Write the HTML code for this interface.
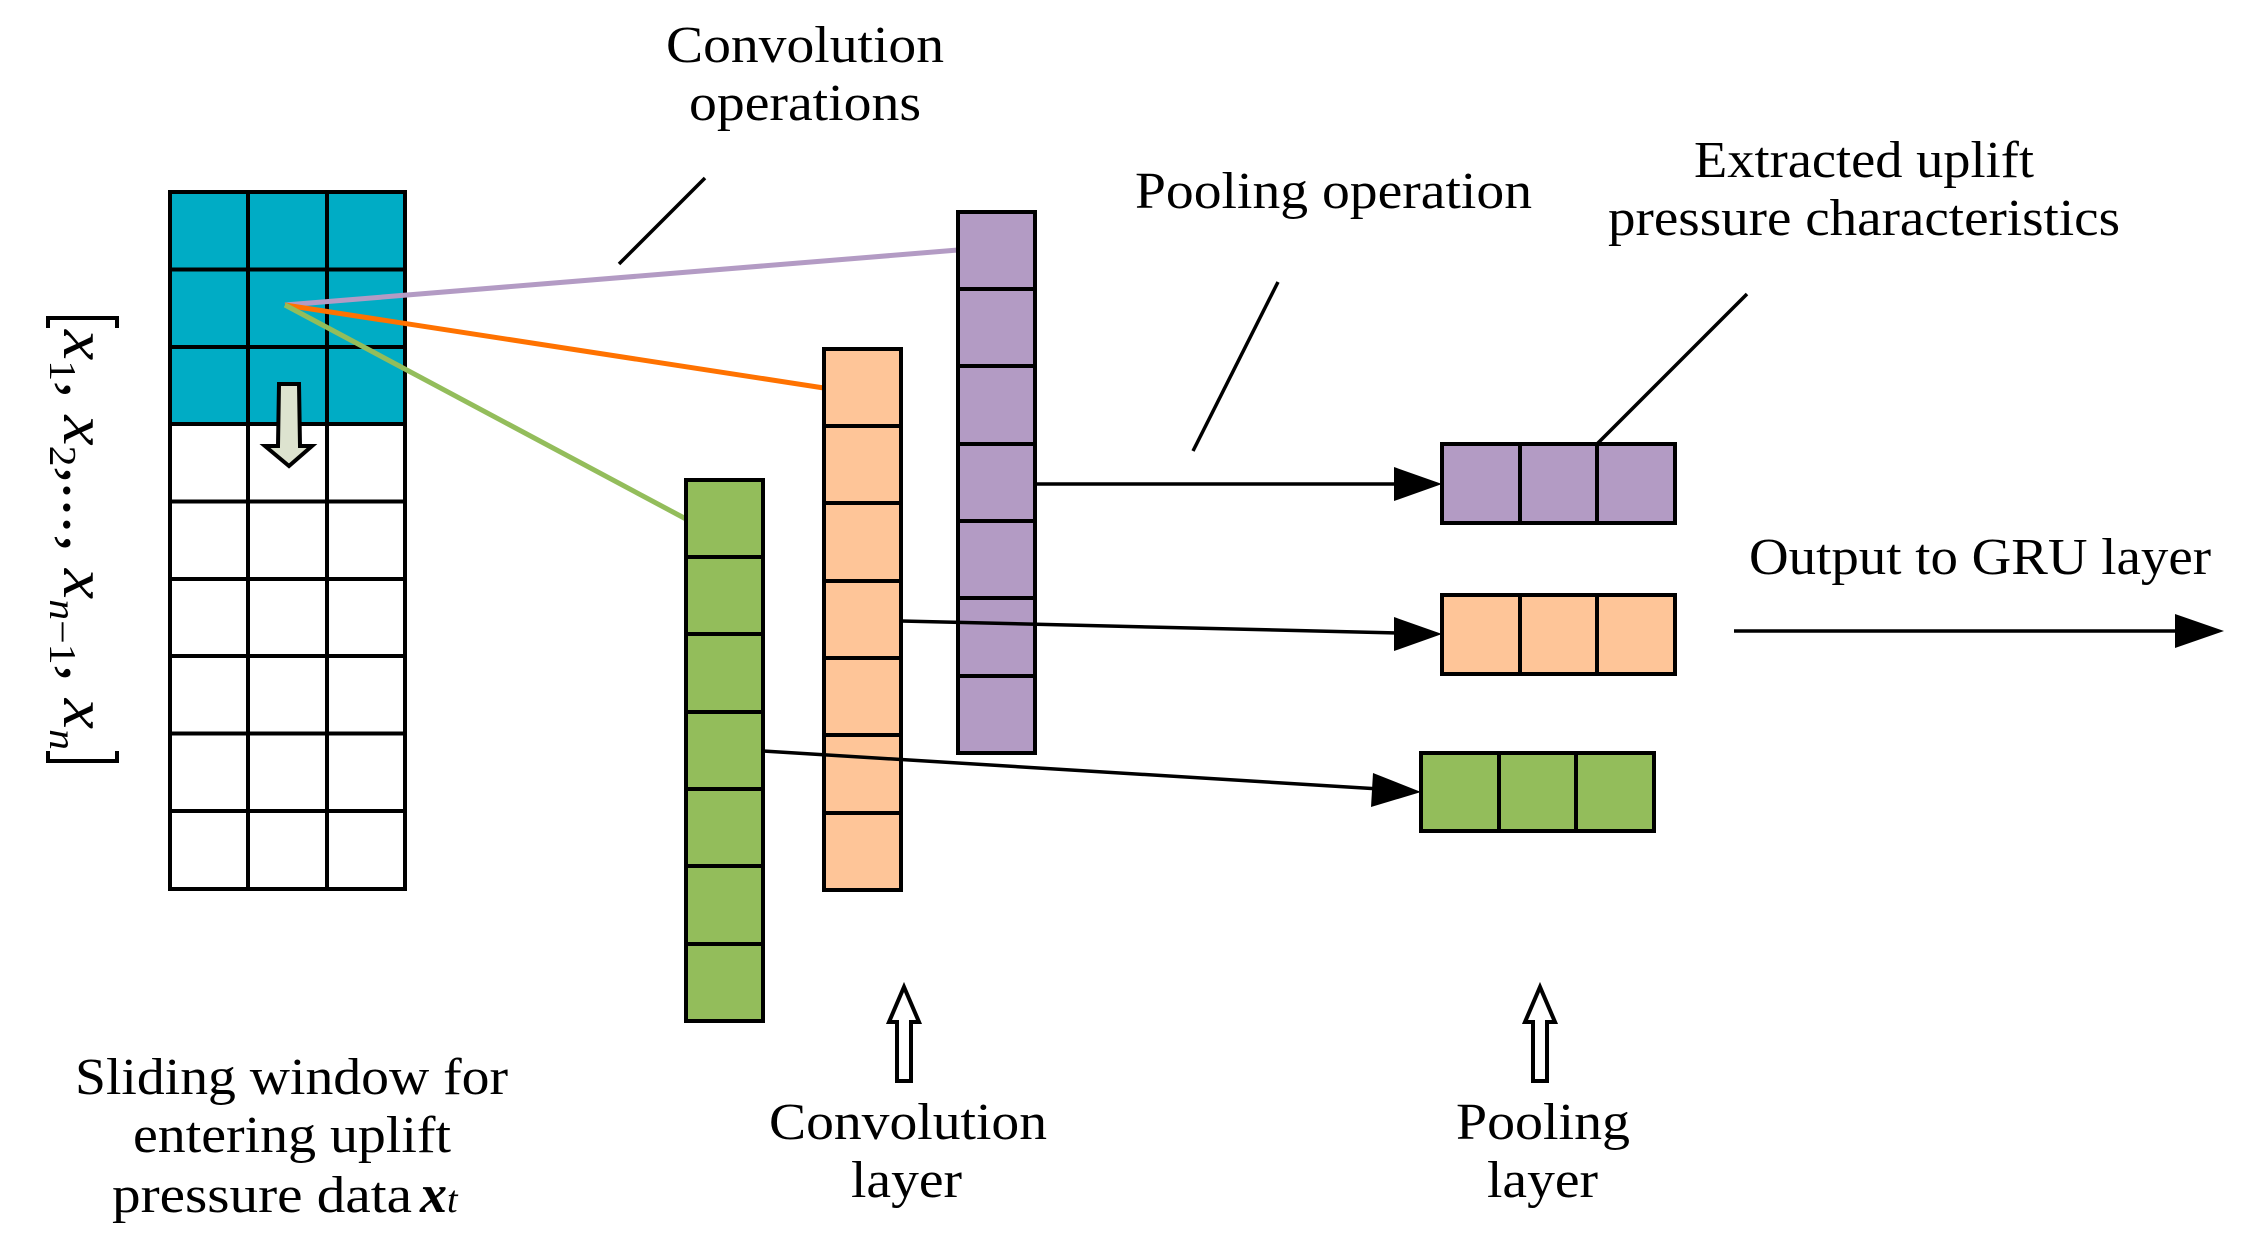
<!DOCTYPE html>
<html><head><meta charset="utf-8"><style>
html,body{margin:0;padding:0;background:#fff;}
svg{display:block;}
text{font-family:"Liberation Serif",serif;fill:#000;}
</style></head><body>
<svg width="2250" height="1251" viewBox="0 0 2250 1251" xmlns="http://www.w3.org/2000/svg">
<rect x="170" y="192" width="235" height="232" fill="#00acc5"/>
<g stroke="#000" stroke-width="4" fill="none">
<rect x="170" y="192" width="235" height="697"/>
<line x1="248" y1="192" x2="248" y2="889"/><line x1="327" y1="192" x2="327" y2="889"/>
<line x1="170" y1="269.5" x2="405" y2="269.5"/><line x1="170" y1="347" x2="405" y2="347"/>
<line x1="170" y1="424" x2="405" y2="424"/><line x1="170" y1="501.5" x2="405" y2="501.5"/>
<line x1="170" y1="579" x2="405" y2="579"/><line x1="170" y1="656" x2="405" y2="656"/>
<line x1="170" y1="733.5" x2="405" y2="733.5"/><line x1="170" y1="811" x2="405" y2="811"/>
</g>
<path d="M279 384 L299 384 L300 446 L312 446 L289 466 L265 446 L278 446 Z" fill="#dde3cf" stroke="#000" stroke-width="4"/>
<line x1="285" y1="305" x2="958" y2="250" stroke="#b39bc4" stroke-width="5"/>
<line x1="285" y1="305" x2="824" y2="388" stroke="#ff7200" stroke-width="5"/>
<line x1="285" y1="305" x2="686" y2="519" stroke="#93bd5b" stroke-width="5"/>
<g stroke="#000" stroke-width="4">
<rect x="686" y="480" width="77" height="541" fill="#93bd5b"/>
<line x1="686" y1="557" x2="763" y2="557"/><line x1="686" y1="634" x2="763" y2="634"/><line x1="686" y1="712" x2="763" y2="712"/><line x1="686" y1="789" x2="763" y2="789"/><line x1="686" y1="866" x2="763" y2="866"/><line x1="686" y1="944" x2="763" y2="944"/>
<rect x="824" y="349" width="77" height="541" fill="#fec598"/>
<line x1="824" y1="426" x2="901" y2="426"/><line x1="824" y1="503" x2="901" y2="503"/><line x1="824" y1="581" x2="901" y2="581"/><line x1="824" y1="658" x2="901" y2="658"/><line x1="824" y1="735" x2="901" y2="735"/><line x1="824" y1="813" x2="901" y2="813"/>
<rect x="958" y="212" width="77" height="541" fill="#b39bc4"/>
<line x1="958" y1="289" x2="1035" y2="289"/><line x1="958" y1="366" x2="1035" y2="366"/><line x1="958" y1="444" x2="1035" y2="444"/><line x1="958" y1="521" x2="1035" y2="521"/><line x1="958" y1="598" x2="1035" y2="598"/><line x1="958" y1="676" x2="1035" y2="676"/>
<rect x="1442" y="444" width="233" height="79" fill="#b39bc4"/>
<line x1="1520" y1="444" x2="1520" y2="523"/><line x1="1597" y1="444" x2="1597" y2="523"/>
<rect x="1442" y="595" width="233" height="79" fill="#fec598"/>
<line x1="1520" y1="595" x2="1520" y2="674"/><line x1="1597" y1="595" x2="1597" y2="674"/>
<rect x="1421" y="753" width="233" height="78" fill="#93bd5b"/>
<line x1="1499" y1="753" x2="1499" y2="831"/><line x1="1576" y1="753" x2="1576" y2="831"/>
</g>
<g stroke="#000" stroke-width="3.5">
<line x1="1035" y1="484" x2="1400" y2="484"/>
<line x1="901" y1="621" x2="1400" y2="633"/>
<line x1="763" y1="751" x2="1380" y2="789"/>
<line x1="1734" y1="631" x2="2185" y2="631"/>
<line x1="619" y1="264" x2="705" y2="178"/>
<line x1="1193" y1="451" x2="1278" y2="282"/>
<line x1="1597" y1="444" x2="1747" y2="294"/>
</g>
<g fill="#000">
<polygon points="1442,484 1394,467 1394,501"/>
<polygon points="1442,634 1394,617 1394,651"/>
<polygon points="1421,792 1373,773 1371,807"/>
<polygon points="2224,631 2175,614 2175,648"/>
</g>
<path d="M897 1081 L897 1022 L889 1022 L904 987 L919 1022 L911 1022 L911 1081 Z" fill="#fff" stroke="#000" stroke-width="4"/>
<path d="M1533 1081 L1533 1022 L1525 1022 L1540 987 L1555 1022 L1547 1022 L1547 1081 Z" fill="#fff" stroke="#000" stroke-width="4"/>
<path d="M48 328 L48 318 L117 318 L117 328 M48 751 L48 761 L117 761 L117 751" fill="none" stroke="#000" stroke-width="4"/>
<text transform="translate(64,330) rotate(90)" font-size="62" font-style="italic" textLength="420" lengthAdjust="spacingAndGlyphs">x<tspan font-size="38" dy="14" font-style="normal">1</tspan><tspan dy="-14">, x</tspan><tspan font-size="38" dy="14" font-style="normal">2</tspan><tspan dy="-14">,..., x</tspan><tspan font-size="38" dy="14">n</tspan><tspan font-size="38" font-style="normal">−1</tspan><tspan dy="-14">, x</tspan><tspan font-size="38" dy="14">n</tspan></text>
<g font-size="52">
<text x="805" y="62" text-anchor="middle" textLength="278" lengthAdjust="spacingAndGlyphs">Convolution</text>
<text x="805" y="120" text-anchor="middle" textLength="232" lengthAdjust="spacingAndGlyphs">operations</text>
<text x="1135" y="208" textLength="397" lengthAdjust="spacingAndGlyphs">Pooling operation</text>
<text x="1694" y="177" textLength="340" lengthAdjust="spacingAndGlyphs">Extracted uplift</text>
<text x="1608" y="235" textLength="512" lengthAdjust="spacingAndGlyphs">pressure characteristics</text>
<text x="1749" y="574" textLength="462" lengthAdjust="spacingAndGlyphs">Output to GRU layer</text>
<text x="75" y="1094" textLength="433" lengthAdjust="spacingAndGlyphs">Sliding window for</text>
<text x="133" y="1152" textLength="318" lengthAdjust="spacingAndGlyphs">entering uplift</text>
<text x="112" y="1212" textLength="300" lengthAdjust="spacingAndGlyphs">pressure data</text>
<text x="420" y="1212" font-style="italic" font-weight="bold" font-size="54">x<tspan font-size="38" font-weight="normal">t</tspan></text>
<text x="769" y="1139" textLength="278" lengthAdjust="spacingAndGlyphs">Convolution</text>
<text x="851" y="1197" textLength="111" lengthAdjust="spacingAndGlyphs">layer</text>
<text x="1456" y="1139" textLength="174" lengthAdjust="spacingAndGlyphs">Pooling</text>
<text x="1487" y="1197" textLength="111" lengthAdjust="spacingAndGlyphs">layer</text>
</g>
</svg>
</body></html>
